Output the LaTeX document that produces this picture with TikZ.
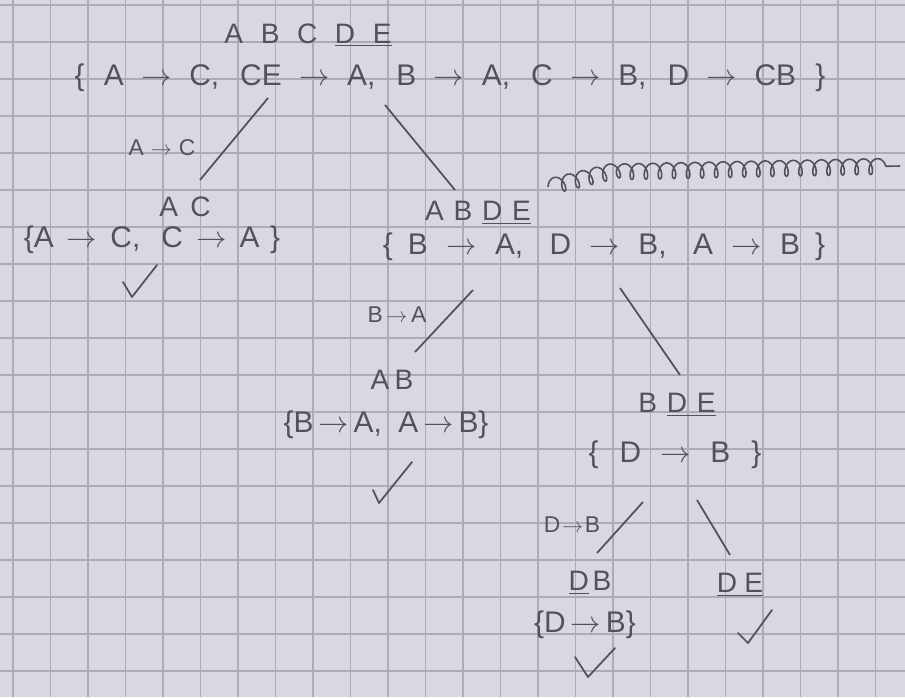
\documentclass[tikz,border=0pt]{standalone}
\usepackage{fontspec}
\setmainfont{Liberation Sans}
\usepackage{xcolor}
\usetikzlibrary{positioning, decorations.pathmorphing}

\definecolor{paper}{RGB}{216,216,224}
\definecolor{gridln}{RGB}{172,172,180}
\definecolor{pencil}{RGB}{82,82,90}

% arrow of a dependency, with the gap on each side
\newcommand{\fdto}[1][2.8pt]{\hspace{#1}$\rightarrow$\hspace{#1}}
% gap between letters of an attribute set
\newcommand{\lgap}[1][5.5pt]{\hspace{#1}}

\begin{document}
\begin{tikzpicture}[
  x=0.02cm, y=-0.02cm,
  attr/.style={font=\fontsize{16}{19}\selectfont, text=pencil, inner sep=1pt},
  fdset/.style={font=\fontsize{17}{20}\selectfont, text=pencil, inner sep=1pt},
  lbl/.style={font=\fontsize{13}{15}\selectfont, text=pencil, inner sep=1pt},
  edge/.style={draw=pencil, line width=1pt},
  tick/.style={draw=pencil, line width=1pt, line cap=round, line join=round},
  scribble/.style={draw=pencil, line width=0.9pt, decorate,
                   decoration={coil, amplitude=4.5pt, segment length=8pt, aspect=0.6}}
]

% Paper and grid
\fill[paper] (0,0) rectangle (905,697);
\useasboundingbox (0,0) rectangle (905,697);
\foreach \i in {0,...,23} \draw[gridln, line width=0.8pt] (13+37.5*\i,0) -- (13+37.5*\i,697);
\foreach \j in {0,...,18} \draw[gridln, line width=0.8pt] (0,5+37*\j) -- (905,5+37*\j);

% Root
\node[attr]  (abcde)   at (308,35)  {A\lgap[10pt]B\lgap[10pt]C\lgap[10pt]\underline{D\lgap[10pt]E}};
\node[fdset] (root)    at (450,78)  {\{\hspace{11pt}A\fdto[10pt]C,\hspace{12pt}CE\fdto[10pt]A,\hspace{12pt}B\fdto[10pt]A,\hspace{12pt}C\fdto[10pt]B,\hspace{12pt}D\fdto[10pt]CB\hspace{11pt}\}};

% Left child
\node[attr]  (ac)      at (185,207) {A\lgap[7pt]C};
\node[fdset] (acset)   at (152,240) {\{A\fdto[7.5pt]C,\hspace{12pt}C\fdto[7.5pt]A\hspace{6pt}\}};

% Right child
\node[attr]  (abde)    at (478,213) {A\lgap B\lgap\underline{D\lgap E}};
\node[fdset] (abdeset) at (604,247) {\{\hspace{8.5pt}B\fdto[10.5pt]A,\hspace{15pt}D\fdto[10.5pt]B,\hspace{15pt}A\fdto[10.5pt]B\hspace{8.5pt}\}};

\node[attr]  (ab)      at (392,380) {A\lgap[3pt]B};
\node[fdset] (abset)   at (386,425) {\{B\fdto A,\; A\fdto B\}};

\node[attr]  (bde)     at (677,405) {B\lgap\underline{D\lgap E}};
\node[fdset] (bdeset)  at (675,455) {\{\hspace{12pt}D\fdto[11pt]B\hspace{12pt}\}};

\node[attr]  (db)      at (590,583) {\underline{D}\lgap[2pt]B};
\node[fdset] (dbset)   at (585,625) {\{D\fdto B\}};

\node[attr]  (de)      at (740,585) {\underline{D\lgap[4pt]E}};

% Edge ends
\coordinate (r1) at (268,98);   \coordinate (c1) at (200,180);
\coordinate (r2) at (385,105);  \coordinate (c2) at (455,190);
\coordinate (a1) at (473,290);  \coordinate (c3) at (415,352);
\coordinate (a2) at (620,288);  \coordinate (c4) at (680,375);
\coordinate (b1) at (643,502);  \coordinate (c5) at (597,553);
\coordinate (b2) at (697,500);  \coordinate (c6) at (730,555);

\draw[edge] (r1) -- (c1);
\draw[edge] (r2) -- (c2);
\draw[edge] (a1) -- (c3);
\draw[edge] (a2) -- (c4);
\draw[edge] (b1) -- (c5);
\draw[edge] (b2) -- (c6);

\node[lbl] (l1) at (162,148) {A\fdto[4pt]C};
\node[lbl] (l2) at (397,315) {B\fdto[2pt]A};
\node[lbl] (l3) at (572,525) {D\fdto[1pt]B};

% Crossed-out text
\draw[scribble] (548,187) -- (610,172) -- (900,166);

% Checks
\draw[tick] (123,282) -- (132,297) -- (157,265);
\draw[tick] (373,490) -- (379,503) -- (412,462);
\draw[tick] (575,657) -- (588,677) -- (615,648);
\draw[tick] (738,633) -- (748,643) -- (772,610);

\end{tikzpicture}
\end{document}
